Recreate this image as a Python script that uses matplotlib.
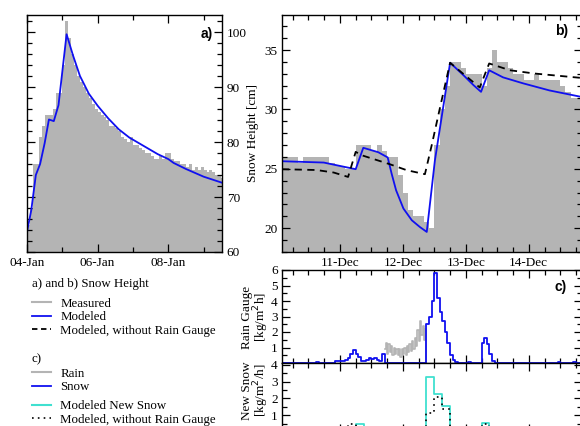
import numpy as np
import pandas as pd
import matplotlib
matplotlib.use('Agg')
import matplotlib.pyplot as plt
import matplotlib.dates as mdates
from matplotlib.lines import Line2D
from matplotlib.ticker import MultipleLocator

plt.rcParams['font.family'] = ['Liberation Serif', 'DejaVu Serif']
plt.rcParams['font.size'] = 9.5

GRAY = '#b4b4b4'
BLUE = '#1010f0'
CYAN = '#40e0d0'

# ---------------- a) January event ----------------
a_start = pd.Timestamp('2010-01-04 00:00')
# measured snow height [cm], every 2 h
a_meas = [65, 68, 76, 76, 81, 83, 85, 85, 85, 86, 89, 89,
          94, 102, 99, 96, 94, 92, 91, 90, 89, 88, 87, 86,
          85.5, 85, 84.5, 84, 83, 83, 82.5, 82, 81, 80.5, 80, 81,
          79.5, 79.5, 79, 78.5, 78, 78, 77.5, 77, 77, 77.5, 77, 78,
          78, 77, 76.5, 76.5, 76, 76, 75.5, 76, 75, 75.5, 75, 75.5,
          75, 74.5, 75, 74.5, 74, 74, 73.5]
# modeled snow height
a_mod_hours = [0, 2.9, 6, 8.9, 12, 14.9, 18.2, 21.4, 26.9, 31.2, 36, 42,
               48, 55.2, 62.4, 69.6, 79.2, 88.8, 96, 99.6, 108, 120, 132.5]
a_mod = [63.7, 67.6, 74, 76, 79.8, 84.1, 83.8, 86.7, 99.6, 95.8, 92.0, 88.8,
         86.6, 84.3, 82.3, 80.8, 79.3, 77.8, 76.9, 76.2, 75.1, 73.7, 72.6]

# ---------------- b) December event ----------------
b_start = pd.Timestamp('2009-12-10 00:00')
# measured snow height [cm], every 2 h starting 02:00
b_meas = [26, 26, 26, 25.5, 26, 26, 26, 26, 26, 25.5, 25.3, 25.2,
          25, 25, 27, 27, 27, 26.5, 27, 26.5, 26, 26, 24.5, 23,
          21.5, 21, 21, 20.5, 20, 27, 30, 32, 34, 34, 33.5, 33,
          33, 33, 32, 33.5, 35, 34, 34, 33.5, 33, 33, 32.5, 32.5,
          33, 32.5, 32.5, 32.5, 32.5, 32, 31.5, 31, 31]
b_mod_hours = [1.9, 17.8, 30, 32.9, 38.6, 42.2, 43.7, 45.4, 48.2, 51.4, 54.5, 57.1,
               60.2, 62.6, 66, 71, 74.9, 77.8, 80.9, 86.2, 93.8, 103.9, 116.2]
b_mod = [25.64, 25.53, 24.97, 26.77, 26.4, 25.96, 24.6, 23.2, 21.66, 20.67, 20.1, 19.69,
         25.7, 29.1, 33.93, 32.9, 32.05, 31.48, 33.3, 32.7, 32.2, 31.6, 31.05]
b_norg_hours = [1.9, 15.1, 21.6, 27.1, 30, 32.2, 43, 49.4, 56.4, 59, 62.5, 66,
                71, 77.3, 80.9, 88.8, 97.9, 116.2]
b_norg = [24.97, 24.9, 24.69, 24.32, 26.43, 26.15, 25.39, 24.89, 24.55, 27, 30.5, 33.93,
          33.0, 31.85, 33.87, 33.3, 33.03, 32.65]

# ---------------- c) rain gauge [kg/m2 h] ----------------
# rain: half-hourly from 41:00
rain_start_h = 41
rain_vals = [0.9, 1.3, 0.6, 1.2, 0.7, 1.1, 0.5, 1.0, 0.6, 0.9, 0.5, 0.9, 0.4, 0.9, 0.6, 1.0,
             0.5, 1.1, 0.7, 1.2, 0.8, 1.4, 0.9, 1.6, 1.1, 2.1, 1.4, 2.7, 1.8, 2.4, 1.5, 2.2]
# snow: hourly
snow_hours = [15, 22, 23, 24, 25, 26, 27, 28, 29, 30, 31, 32, 33, 34, 35, 36, 37, 38, 39, 40,
              57, 58, 59, 60, 61, 62, 63, 64, 65, 66, 67, 68, 73,
              78, 79, 80, 81, 82, 107, 113]
snow_vals = [0.05, 0.1, 0.1, 0.1, 0.15, 0.2, 0.3, 0.6, 0.85, 0.6, 0.4, 0.15, 0.15, 0.2, 0.3, 0.25, 0.3, 0.2, 0.15, 0.6,
             2.5, 3.0, 4.0, 5.8, 4.2, 3.3, 2.7, 2.0, 1.3, 0.5, 0.2, 0.05, 0.05,
             1.3, 1.6, 1.2, 0.6, 0.15, 0.05, 0.05]

# new snow [kg/m2/h], 3-hourly bins (start hour)
ns_hours = [24, 27, 30, 33, 36, 57, 60, 63, 66, 69, 78, 81]
ns_mod = [0.15, 0.3, 0.5, 0.25, 0.2, 3.25, 2.24, 1.56, 0.3, 0.05, 0.52, 0.1]
ns_norg = [0.1, 0.5, 0.3, 0.2, 0.15, 1.1, 2.1, 1.36, 0.3, 0.05, 0.5, 0.1]

n_hours = 117

fig = plt.figure(figsize=(5.8, 4.26), dpi=100)
W, H = 580.0, 426.0


def box(x0, y0, x1, y1):
    return [x0 / W, 1 - y1 / H, (x1 - x0) / W, (y1 - y0) / H]


ax_a = fig.add_axes(box(27, 15, 222, 252))
ax_b = fig.add_axes(box(282, 15, 582, 252))
ax_c = fig.add_axes(box(282, 270, 582, 363))
ax_n = fig.add_axes(box(282, 363, 582, 432))


def hours(start, h):
    return start + pd.to_timedelta(np.asarray(h, dtype=float), unit='h')


def style(ax):
    ax.tick_params(which='both', direction='in', top=True, right=True, width=0.9)
    ax.tick_params(which='major', length=6, pad=3.5)
    ax.tick_params(which='minor', length=3.5)
    for s in ax.spines.values():
        s.set_linewidth(1.0)


# ---- panel a
t = hours(a_start, np.arange(len(a_meas) + 1) * 2)
ax_a.fill_between(t, np.append(a_meas, a_meas[-1]), 0, step='post', color=GRAY, lw=0)
ax_a.plot(hours(a_start, a_mod_hours), a_mod, color=BLUE, lw=1.3)
ax_a.set_xlim(a_start, a_start + pd.Timedelta(hours=132.5))
ax_a.set_ylim(60, 103.1)
ax_a.xaxis.set_major_locator(mdates.DayLocator(bymonthday=[4, 6, 8]))
ax_a.xaxis.set_minor_locator(mdates.DayLocator())
ax_a.xaxis.set_major_formatter(mdates.DateFormatter('%d-%b'))
ax_a.yaxis.set_major_locator(MultipleLocator(10))
ax_a.yaxis.set_minor_locator(MultipleLocator(2))
style(ax_a)
ax_a.tick_params(axis='y', labelleft=False, labelright=True)
ax_a.text(0.92, 0.92, 'a)', transform=ax_a.transAxes, family='Liberation Sans',
          weight='bold', fontsize=10, ha='center', va='center')

# ---- panel b
t = hours(b_start, np.arange(len(b_meas) + 1) * 2 + 2)
ax_b.fill_between(t, np.append(b_meas, b_meas[-1]), 0, step='post', color=GRAY, lw=0)
ax_b.plot(hours(b_start, b_mod_hours), b_mod, color=BLUE, lw=1.3)
ax_b.plot(hours(b_start, b_norg_hours), b_norg, color='k', lw=1.3, ls=(0, (4, 3)))
xlim_b = (b_start + pd.Timedelta(hours=1.9), b_start + pd.Timedelta(hours=116.3))
ax_b.set_xlim(*xlim_b)
ax_b.set_ylim(18, 37.95)
ax_b.yaxis.set_major_locator(MultipleLocator(5))
ax_b.yaxis.set_minor_locator(MultipleLocator(1))
# one label shared by a) and b), sitting between the two panels
ax_b.set_ylabel('Snow Height [cm]')
ax_b.yaxis.label.set_va('center')
ax_b.yaxis.set_label_coords((253 - 282) / 300, 0.5)
ax_b.text(562 / W, 1 - 31.5 / H, 'b)', transform=fig.transFigure, family='Liberation Sans',
          weight='bold', fontsize=10, ha='center', va='center')

# ---- panel c rain gauge
snow = np.zeros(n_hours)
snow[snow_hours] = snow_vals
th = hours(b_start, np.arange(n_hours))
tr = hours(b_start, rain_start_h + 0.5 * np.arange(len(rain_vals) + 1))
ax_c.step(tr, rain_vals + [0], where='post', color=GRAY, lw=1.2)
ax_c.step(th, snow, where='post', color=BLUE, lw=1.3)
ax_c.set_xlim(*xlim_b)
ax_c.set_ylim(0, 6)
ax_c.set_yticks(range(7))
ax_c.set_yticklabels([''] + [str(i) for i in range(1, 7)])
ax_c.yaxis.set_minor_locator(MultipleLocator(0.5))
ax_c.set_ylabel('Rain Gauge\n[kg/m$^2$h]', linespacing=0.9)
ax_c.yaxis.label.set_va('center')
ax_c.yaxis.set_label_coords((256 - 282) / 300, 0.49)
ax_c.text(561 / W, 1 - 287 / H, 'c)', transform=fig.transFigure, family='Liberation Sans',
          weight='bold', fontsize=10, ha='center', va='center')

# ---- new snow
nsm = np.zeros(n_hours // 3 + 1)
nsn = np.zeros(n_hours // 3 + 1)
nsm[np.array(ns_hours) // 3] = ns_mod
nsn[np.array(ns_hours) // 3] = ns_norg
tb = hours(b_start, np.arange(len(nsm)) * 3)
ax_n.step(tb, nsm, where='post', color=CYAN, lw=1.3)
ax_n.step(tb, nsn, where='post', color='k', lw=1.2, ls=(0, (1, 2.5)))
ax_n.set_xlim(*xlim_b)
ax_n.set_ylim(0, 4.1)
ax_n.set_yticks(range(5))
ax_n.set_yticklabels([''] + [str(i) for i in range(1, 5)])
ax_n.yaxis.set_minor_locator(MultipleLocator(0.5))
ax_n.set_ylabel('New Snow\n[kg/m$^2$/h]', linespacing=0.9)
ax_n.yaxis.label.set_va('center')
ax_n.yaxis.set_label_coords((256 - 282) / 300, 0.6)

for ax in (ax_b, ax_c, ax_n):
    ax.xaxis.set_major_locator(mdates.DayLocator())
    ax.xaxis.set_minor_locator(mdates.HourLocator(byhour=[0, 6, 12, 18]))
    ax.xaxis.set_major_formatter(mdates.DateFormatter('%d-%b'))
    style(ax)
for ax in (ax_c, ax_n):
    ax.tick_params(axis='x', labelbottom=False)
    ax.tick_params(axis='y', pad=3)
ax_b.tick_params(axis='y', pad=3)

# ---- legends
leg_fs = 9.3
leg_kw = dict(frameon=False, handlelength=1.45, handletextpad=0.75, borderaxespad=0,
              borderpad=0, labelspacing=0.12, fontsize=leg_fs, loc='upper left')
fig.text(32 / W, 1 - 284 / H, 'a) and b) Snow Height', fontsize=leg_fs, va='center')
h1 = [Line2D([], [], color=GRAY, lw=1.5), Line2D([], [], color=BLUE, lw=1.3),
      Line2D([], [], color='k', lw=1.3, ls=(0, (3, 2)))]
fig.legend(h1, ['Measured', 'Modeled', 'Modeled, without Rain Gauge'],
           bbox_to_anchor=(32 / W, 1 - 297.5 / H), **leg_kw)
fig.text(32 / W, 1 - 359 / H, 'c)', fontsize=leg_fs, va='center')
h2 = [Line2D([], [], color=GRAY, lw=1.5), Line2D([], [], color=BLUE, lw=1.3)]
fig.legend(h2, ['Rain', 'Snow'], bbox_to_anchor=(32 / W, 1 - 367.5 / H), **leg_kw)
h3 = [Line2D([], [], color=CYAN, lw=1.5), Line2D([], [], color='k', lw=1.2, ls=(0, (1, 2.5)))]
fig.legend(h3, ['Modeled New Snow', 'Modeled, without Rain Gauge'],
           bbox_to_anchor=(32 / W, 1 - 400 / H), **leg_kw)

fig.savefig('out.png', dpi=100)
